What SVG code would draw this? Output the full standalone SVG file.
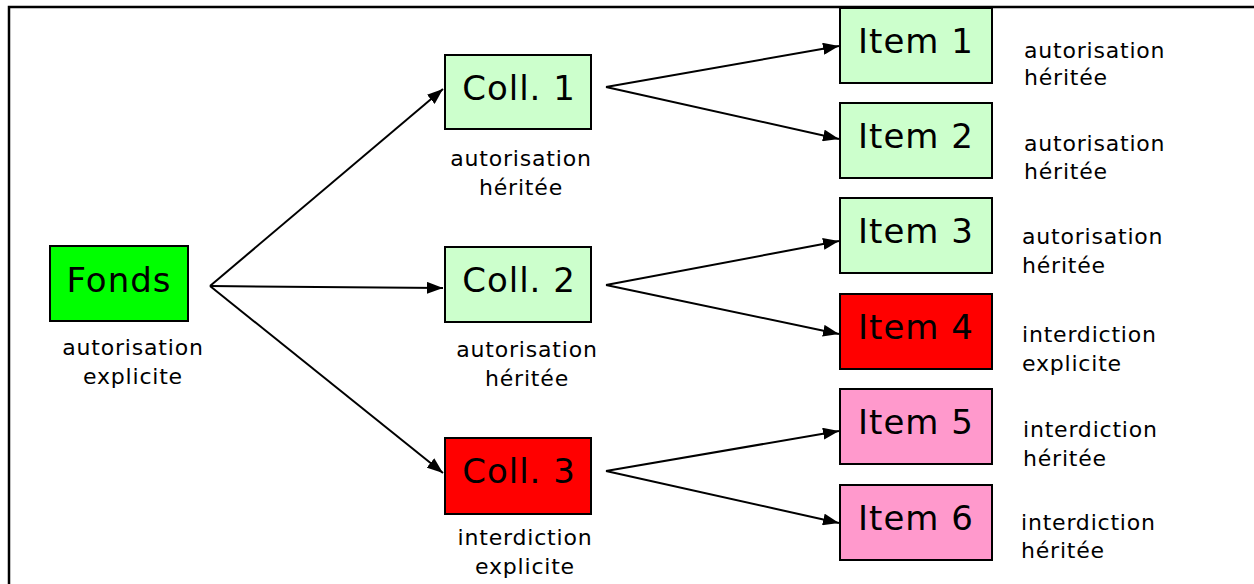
<svg xmlns="http://www.w3.org/2000/svg" width="1254" height="584" viewBox="0 0 1254 584">
  <style>
    .box { stroke: #000; stroke-width: 2; }
    .allow-explicit { fill: #00ff00; }
    .allow-inherit { fill: #ccffcc; }
    .deny-explicit { fill: #ff0000; }
    .deny-inherit { fill: #ff99cc; }
    .name { font-family: "DejaVu Sans", Verdana, sans-serif; font-size: 34px; letter-spacing: 1px; fill: #000; text-anchor: middle; }
    .note { font-family: "DejaVu Sans", Verdana, sans-serif; font-size: 22px; letter-spacing: 0.8px; fill: #000; }
    .mid { text-anchor: middle; }
  </style>
  <defs>
    <marker id="arrowhead" viewBox="0 0 16 12" refX="16" refY="6" markerWidth="16" markerHeight="12" markerUnits="userSpaceOnUse" orient="auto">
      <path d="M0,0 L16,6 L0,12 z" fill="#000"/>
    </marker>
  </defs>

  <rect width="1254" height="584" fill="#fff"/>
  <!-- outer frame (top and left edges) -->
  <path d="M9,590 L9,7 L1260,7" stroke="#000" stroke-width="2.5" fill="none"/>

  <!-- connectors -->
  <g id="connectors" stroke="#000" stroke-width="2" fill="none">
    <line x1="210" y1="286" x2="443" y2="89" marker-end="url(#arrowhead)"/>
    <line x1="210" y1="286" x2="443" y2="288" marker-end="url(#arrowhead)"/>
    <line x1="210" y1="286" x2="443" y2="473" marker-end="url(#arrowhead)"/>
    <line x1="606" y1="87" x2="839" y2="46" marker-end="url(#arrowhead)"/>
    <line x1="606" y1="87" x2="839" y2="139" marker-end="url(#arrowhead)"/>
    <line x1="606" y1="285" x2="839" y2="241" marker-end="url(#arrowhead)"/>
    <line x1="606" y1="285" x2="839" y2="334" marker-end="url(#arrowhead)"/>
    <line x1="606" y1="471" x2="839" y2="431" marker-end="url(#arrowhead)"/>
    <line x1="606" y1="471" x2="839" y2="523" marker-end="url(#arrowhead)"/>
  </g>

  <g id="fonds">
    <rect class="box allow-explicit" x="50" y="246" width="138" height="75"/>
    <text class="name" x="119" y="292">Fonds</text>
    <text class="note mid" x="133" y="355">autorisation</text>
    <text class="note mid" x="133" y="384">explicite</text>
  </g>

  <g id="coll1">
    <rect class="box allow-inherit" x="445" y="55" width="146" height="74"/>
    <text class="name" x="519" y="100">Coll. 1</text>
    <text class="note mid" x="521" y="166">autorisation</text>
    <text class="note mid" x="521" y="195">héritée</text>
  </g>

  <g id="coll2">
    <rect class="box allow-inherit" x="445" y="247" width="146" height="75"/>
    <text class="name" x="519" y="292">Coll. 2</text>
    <text class="note mid" x="527" y="357">autorisation</text>
    <text class="note mid" x="527" y="386">héritée</text>
  </g>

  <g id="coll3">
    <rect class="box deny-explicit" x="445" y="438" width="146" height="76"/>
    <text class="name" x="519" y="483">Coll. 3</text>
    <text class="note mid" x="525" y="545">interdiction</text>
    <text class="note mid" x="525" y="574">explicite</text>
  </g>

  <g id="item1">
    <rect class="box allow-inherit" x="840" y="8" width="152" height="75"/>
    <text class="name" x="916" y="53">Item 1</text>
    <text class="note" x="1024" y="58">autorisation</text>
    <text class="note" x="1024" y="85">héritée</text>
  </g>

  <g id="item2">
    <rect class="box allow-inherit" x="840" y="103" width="152" height="75"/>
    <text class="name" x="916" y="148">Item 2</text>
    <text class="note" x="1024" y="151">autorisation</text>
    <text class="note" x="1024" y="179">héritée</text>
  </g>

  <g id="item3">
    <rect class="box allow-inherit" x="840" y="198" width="152" height="75"/>
    <text class="name" x="916" y="243">Item 3</text>
    <text class="note" x="1022" y="244">autorisation</text>
    <text class="note" x="1022" y="273">héritée</text>
  </g>

  <g id="item4">
    <rect class="box deny-explicit" x="840" y="294" width="152" height="75"/>
    <text class="name" x="916" y="339">Item 4</text>
    <text class="note" x="1022" y="342">interdiction</text>
    <text class="note" x="1022" y="371">explicite</text>
  </g>

  <g id="item5">
    <rect class="box deny-inherit" x="840" y="389" width="152" height="75"/>
    <text class="name" x="916" y="434">Item 5</text>
    <text class="note" x="1023" y="437">interdiction</text>
    <text class="note" x="1023" y="466">héritée</text>
  </g>

  <g id="item6">
    <rect class="box deny-inherit" x="840" y="485" width="152" height="75"/>
    <text class="name" x="916" y="530">Item 6</text>
    <text class="note" x="1021" y="530">interdiction</text>
    <text class="note" x="1021" y="558">héritée</text>
  </g>
</svg>
